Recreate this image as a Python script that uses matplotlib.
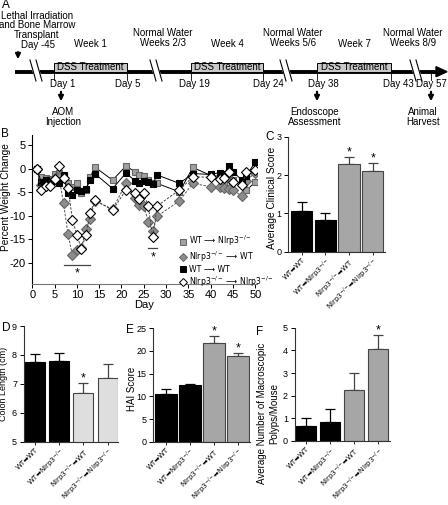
import matplotlib
matplotlib.use("Agg")
import matplotlib.pyplot as plt
from matplotlib.lines import Line2D
from matplotlib.patches import Rectangle, Polygon

plt.rcParams["font.family"] = ["Liberation Sans", "DejaVu Sans"]
plt.rcParams["axes.unicode_minus"] = False
plt.rcParams["mathtext.fontset"] = "custom"
plt.rcParams["mathtext.rm"] = "DejaVu Sans"
plt.rcParams["mathtext.it"] = "DejaVu Sans"
plt.rcParams["mathtext.fallback"] = "stix"

# ---- panel A: timeline text ----
week_labels = ["Week 1", "Week 4", "Week 7"]
water_labels = ["Normal Water\nWeeks 2/3", "Normal Water\nWeeks 5/6", "Normal Water\nWeeks 8/9"]
day_labels = ["Day 1", "Day 5", "Day 19", "Day 24", "Day 38", "Day 43", "Day 57"]
event_labels = ["AOM\nInjection", "Endoscope\nAssessment", "Animal\nHarvest"]

# ---- panel B: weight change (%) ----
days = [1, 2, 3, 4, 5, 6, 7, 8, 9, 10, 11, 12, 13, 14, 18, 21, 23, 24, 25, 26, 27, 28,
        33, 36, 40, 42, 43, 44, 45, 47, 48, 50]
wt_to_ko = [0, -1.8, -2.0, -2.2, -1.2, -0.8, -1.5, -3.1, -3.8, -3.1, -5.2, -4.4, -1.8, 0.4,
            -2.4, 0.6, -0.6, -1.3, -1.5, -2.4, -3.0, -3.1, -4.9, 0.3, -1.4, -1.6, -3.0,
            -2.0, -2.4, -3.2, -4.6, -2.8]
ko_to_wt = [0, -3.5, -2.8, -2.5, -2.0, -1.8, -7.3, -13.9, -18.4, -17.3, -16.9, -12.9, -10.6,
            -6.8, -8.6, -3.1, -6.2, -7.6, -7.8, -11.3, -13.2, -10.1, -6.8, -3.1, -3.8, -3.9,
            -4.0, -4.2, -4.5, -5.8, -2.5, -0.8]
wt_to_wt = [0, -2.8, -2.3, -2.8, -2.5, -3.0, -1.3, -5.2, -5.5, -4.5, -4.7, -4.3, -2.4, -1.0,
            -4.2, -0.9, -2.5, -3.1, -2.6, -2.9, -3.3, -1.3, -3.1, -1.0, -1.2, -0.8, -1.2,
            0.6, -0.6, -2.4, -1.5, 1.5]
ko_to_ko = [0, -4.6, -3.7, -3.7, -2.2, 0.5, -2.0, -4.0, -10.8, -14.1, -17.1, -14.1, -9.5,
            -6.6, -8.8, -4.5, -5.1, -6.4, -5.2, -7.9, -14.6, -7.9, -4.5, -1.7, -1.8, -2.1,
            -2.0, -0.6, -2.8, -3.5, -0.6, -0.3]
sig_b = [(7, 13, -20.4), (26, 28, -16.9)]  # start day, end day, bar level

# ---- panels C-F: bar charts ----
groups = ["WT➡WT", "WT➡Nlrp3$^{-/-}$", "Nlrp3$^{-/-}$➡WT", "Nlrp3$^{-/-}$➡Nlrp3$^{-/-}$"]
clinical = [1.06, 0.83, 2.29, 2.10]
clinical_err = [0.24, 0.17, 0.19, 0.21]
clinical_sig = [False, False, True, True]
colon = [7.74, 7.79, 6.70, 7.21]
colon_err = [0.28, 0.26, 0.33, 0.46]
colon_sig = [False, False, True, False]
hai = [10.6, 12.4, 21.7, 18.9]
hai_err = [1.0, 0.3, 1.5, 0.7]
hai_sig = [False, False, True, True]
polyps = [0.67, 0.84, 2.25, 4.08]
polyps_err = [0.35, 0.57, 0.75, 0.59]
polyps_sig = [False, False, False, True]

W, H = 448, 505
fig = plt.figure(figsize=(W / 100, H / 100), dpi=100)


def px_axes(l, t, r, b):
    # axes from a pixel box (left, top, right, bottom)
    return fig.add_axes([l / W, 1 - b / H, (r - l) / W, (b - t) / H])


# ---------------- A ----------------
axa = fig.add_axes([0, 0, 1, 1])
axa.set_xlim(0, W)
axa.set_ylim(H, 0)
axa.axis("off")
ty = 71.7
axa.plot([15, 438], [ty, ty], color="k", lw=2.8, solid_capstyle="butt")
axa.add_patch(Polygon([[436, ty - 5], [447, ty], [436, ty + 5]], closed=True, color="k"))
for bx in [37, 157, 287, 417]:
    axa.add_patch(Polygon([[bx - 7, 60], [bx - 1, 60], [bx + 5, 81], [bx - 1, 81]],
                          closed=True, color="white", zorder=3))
    for dx in [-6, 0]:
        axa.plot([bx + dx - 1, bx + dx + 5], [60, 81], color="k", lw=0.8, zorder=4)
box_edges = [(54, 127), (191, 263), (317, 391)]
for (x0, x1), wl in zip(box_edges, week_labels):
    axa.add_patch(Rectangle((x0, 62.5), x1 - x0, 9.5, facecolor="#c8c8c8",
                            edgecolor="k", lw=0.7, zorder=5))
    axa.text((x0 + x1) / 2, 67.5, "DSS Treatment", ha="center", va="center", fontsize=7, zorder=6)
    axa.text((x0 + x1) / 2, 44, wl, ha="center", va="center", fontsize=7)
for x, wl in zip([163, 293, 413], water_labels):
    axa.text(x, 38, wl, ha="center", va="center", fontsize=7, linespacing=1.05)
tick_x = [54, 127, 191, 263, 317, 391, 431]
label_x = [63, 128, 194, 268, 323, 398, 431]
for tx, lx, dl in zip(tick_x, label_x, day_labels):
    axa.plot([tx, tx], [72, 80], color="k", lw=0.6)
    axa.text(lx, 84, dl, ha="center", va="center", fontsize=7)
for ax_, tx, el in zip([61, 317, 431], [63, 315, 423], event_labels):
    axa.annotate("", xy=(ax_, 104), xytext=(ax_, 89),
                 arrowprops=dict(arrowstyle="-|>", lw=1.6, color="k", mutation_scale=7))
    axa.text(tx, 117, el, ha="center", va="center", fontsize=7, linespacing=1.0)
axa.annotate("", xy=(18, 62), xytext=(18, 49.5),
             arrowprops=dict(arrowstyle="-|>", lw=1.6, color="k", mutation_scale=7))
axa.text(37, 25.5, "Lethal Irradiation\nand Bone Marrow\nTransplant", ha="center", va="center",
         fontsize=7, linespacing=0.98)
axa.text(38, 44.5, "Day -45", ha="center", va="center", fontsize=7)
for lab, x, y in [("A", 2, 5), ("B", 1, 134), ("C", 265, 137), ("D", 2, 328),
                  ("E", 126, 330), ("F", 256, 332)]:
    axa.text(x, y, lab, ha="left", va="center", fontsize=8.5)

# ---------------- B ----------------
axb = px_axes(32.3, 135, 256.6, 284)
series = [
    (wt_to_ko, "s", "#a0a0a0", "#666666", "-", "k"),
    (ko_to_wt, "D", "#8c8c8c", "#666666", "--", "#555555"),
    (wt_to_wt, "s", "k", "k", "-", "k"),
    (ko_to_ko, "D", "white", "k", "--", "#444444"),
]
leg_labels = ["WT ⟶ Nlrp3$^{-/-}$", "Nlrp3$^{-/-}$ ⟶ WT", "WT ⟶ WT", "Nlrp3$^{-/-}$ ⟶ Nlrp3$^{-/-}$"]
handles = []
for (vals, mk, fc, ec, ls, lc), lab in zip(series, leg_labels):
    ms = 5 if mk == "s" else 5.2
    axb.plot(days, vals, color=lc, ls=ls, lw=0.7, dashes=(2.5, 1.5) if ls == "--" else (None, None),
             marker=mk, ms=ms, mfc=fc, mec=ec, mew=0.8, zorder=3)
    handles.append(Line2D([], [], ls="none", marker=mk, ms=4, mfc=fc, mec=ec, mew=0.7, label=lab))
axb.set_xlim(0, 50.3)
axb.set_ylim(-24.5, 7.2)
axb.set_xticks(range(0, 51, 5))
axb.set_yticks([5, 0, -5, -10, -15, -20])
axb.tick_params(labelsize=8, length=3, width=0.7, pad=1.5)
axb.spines[["top", "right"]].set_visible(False)
axb.spines["bottom"].set_color("#777777")
axb.set_xlabel("Day", fontsize=8, labelpad=0)
axb.set_ylabel("Percent Weight Change", fontsize=7.3)
axb.yaxis.set_label_coords(-0.097, 0.585)
for d0, d1, lev in sig_b:
    axb.plot([d0, d1], [lev, lev], color="#444444", lw=0.9)
    axb.text((d0 + d1) / 2, lev - 0.6, "*", ha="center", va="top", fontsize=9)
axb.legend(handles=handles, loc="upper left", bbox_to_anchor=(180 / W, 1 - 234 / H),
           bbox_transform=fig.transFigure, frameon=False,
           prop={"family": "DejaVu Sans", "size": 5.6}, handlelength=0.8,
           handletextpad=0.3, labelspacing=0.12, borderpad=0, borderaxespad=0)


# ---------------- C-F ----------------
def bar_panel(box, vals, errs, sig, fills, edges, xlim, width, ylim, yticks, ylabel, ysize, lab_xy):
    ax = px_axes(*box)
    pos = range(len(vals))
    ax.bar(pos, vals, width=width, color=fills, edgecolor=edges, lw=0.8, zorder=2)
    for p, v, e, ec, s in zip(pos, vals, errs, edges, sig):
        ax.errorbar([p], [v], yerr=[[0], [e]], fmt="none", ecolor=ec, elinewidth=0.9,
                    capsize=3.5, capthick=0.9, zorder=1)
        if s:
            ax.annotate("*", (p, v + e), xytext=(0, -1), textcoords="offset points",
                        ha="center", va="bottom", fontsize=9)
    ax.set_xlim(*xlim)
    ax.set_ylim(*ylim)
    ax.set_yticks(yticks)
    ax.set_xticks(list(pos))
    ax.set_xticklabels(groups, rotation=45, ha="right", rotation_mode="anchor",
                       fontsize=5.0, family="DejaVu Sans")
    ax.tick_params(axis="y", labelsize=6.5, length=3, width=0.7, pad=2)
    ax.tick_params(axis="x", length=2, width=0.6, pad=1.5)
    ax.spines[["top", "right"]].set_visible(False)
    for sp in ["left", "bottom"]:
        ax.spines[sp].set_color("#333333")
        ax.spines[sp].set_linewidth(0.8)
    ax.set_ylabel(ylabel, fontsize=ysize)
    ax.yaxis.set_label_coords(*lab_xy)
    return ax


dark = ["k", "k", "#a6a6a6", "#a6a6a6"]
dark_e = ["k", "k", "#444444", "#444444"]
bar_panel((288.3, 136.7, 385, 251.7), clinical, clinical_err, clinical_sig, dark, dark_e,
          (-0.566, 3.52), 0.91, (0, 3), [0, 1, 2, 3], "Average Clinical Score", 7.3,
          (-0.117, 0.47))
bar_panel((24, 326, 118.3, 441.7), colon, colon_err, colon_sig,
          ["k", "k", "#dedede", "#dedede"], dark_e,
          (-0.455, 3.44), 0.83, (5, 9), [5, 6, 7, 8, 9], "Colon Length (cm)", 6.5,
          (-0.166, 0.5))
bar_panel((153.3, 328.3, 250, 441.7), hai, hai_err, hai_sig, dark, dark_e,
          (-0.53, 3.51), 0.92, (0, 25), [0, 5, 10, 15, 20, 25], "HAI Score", 7,
          (-0.17, 0.47))
bar_panel((295, 327.7, 390, 441), polyps, polyps_err, polyps_sig, dark, dark_e,
          (-0.47, 3.5), 0.84, (0, 5), [0, 1, 2, 3, 4, 5],
          "Average Number of Macroscopic\nPolyps/Mouse", 7.0, (-0.17, 0.24))

fig.savefig("out.png", dpi=100)
